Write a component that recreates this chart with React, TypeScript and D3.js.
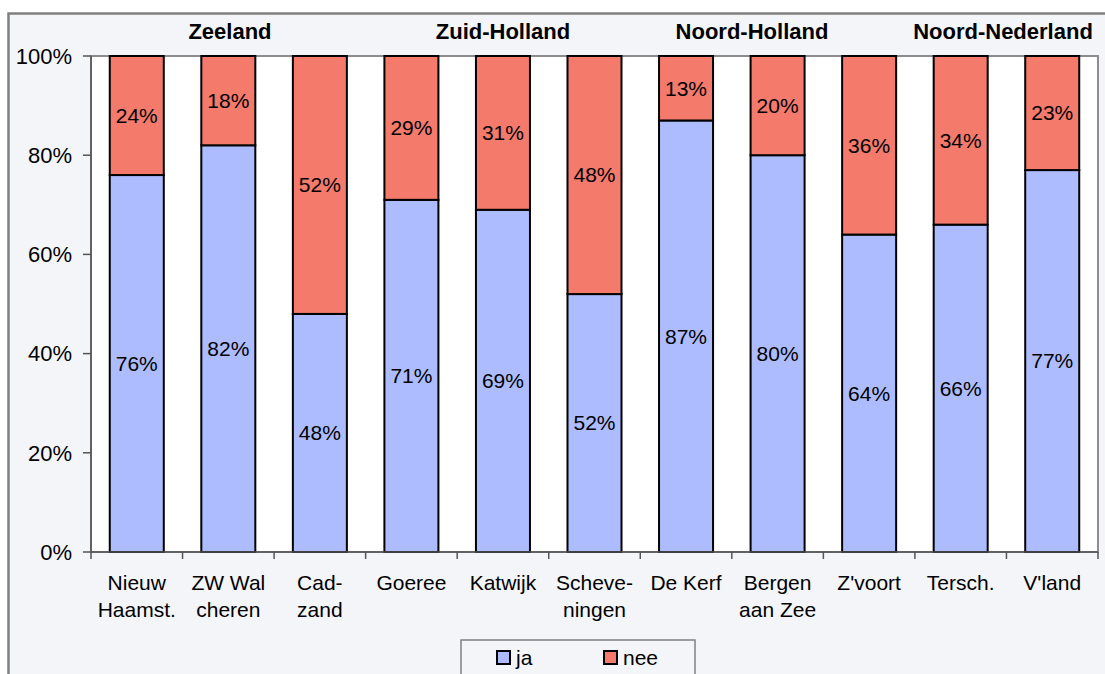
import React from "react";
import * as d3 from "d3";

const categories: string[][] = [
  ["Nieuw", "Haamst."],
  ["ZW Wal", "cheren"],
  ["Cad-", "zand"],
  ["Goeree"],
  ["Katwijk"],
  ["Scheve-", "ningen"],
  ["De Kerf"],
  ["Bergen", "aan Zee"],
  ["Z'voort"],
  ["Tersch."],
  ["V'land"],
];
const ja = [76, 82, 48, 71, 69, 52, 87, 80, 64, 66, 77];
const nee = [24, 18, 52, 29, 31, 48, 13, 20, 36, 34, 23];
const yTicks = [0, 20, 40, 60, 80, 100];
const regions = [
  { name: "Zeeland", x: 230 },
  { name: "Zuid-Holland", x: 503 },
  { name: "Noord-Holland", x: 752 },
  { name: "Noord-Nederland", x: 1003 },
];

const W = 1105;
const H = 674;
const plot = { left: 91, right: 1098, top: 56, bottom: 552 };
const FONT = "Liberation Sans, Arial, sans-serif";
const BLUE = "#adbcff";
const RED = "#f47a6c";

export default function App() {
  const keys = categories.map((_, i) => String(i));
  const x = d3.scaleBand().domain(keys).range([plot.left, plot.right]).paddingInner(0.41).paddingOuter(0.205);
  const band = d3.scaleBand().domain(keys).range([plot.left, plot.right]);
  const y = d3.scaleLinear().domain([0, 100]).range([plot.bottom, plot.top]);

  const rows = categories.map((_, i) => ({ key: String(i), ja: ja[i], nee: nee[i] }));
  const stacked = d3.stack<any>().keys(["ja", "nee"])(rows);
  const colors = [BLUE, RED];

  return (
    <svg width={W} height={H} style={{ position: "absolute", left: 0, top: 0 }} fontFamily={FONT}>
      <rect x={0} y={0} width={W} height={H} fill="#ffffff" />
      {/* outer chart frame */}
      <rect x={8.5} y={13.5} width={W + 20} height={H + 20} fill="#f4f5f8" stroke="#808080" strokeWidth={2.5} />
      {/* plot area */}
      <rect x={plot.left} y={plot.top} width={plot.right - plot.left} height={plot.bottom - plot.top} fill="#ffffff" stroke="#8c8c8c" strokeWidth={2} />

      {/* region headers */}
      {regions.map((r) => (
        <text key={r.name} x={r.x} y={39} textAnchor="middle" fontSize={22} fontWeight="bold" fill="#000">
          {r.name}
        </text>
      ))}

      {/* stacked bars */}
      {stacked.map((series, si) =>
        series.map((d, i) => (
          <rect
            key={`${si}-${i}`}
            x={x(String(i))}
            y={y(d[1])}
            width={x.bandwidth()}
            height={y(d[0]) - y(d[1])}
            fill={colors[si]}
            stroke="#000"
            strokeWidth={2}
          />
        ))
      )}

      {/* value labels */}
      {stacked.map((series, si) =>
        series.map((d, i) => (
          <text
            key={`l${si}-${i}`}
            x={(x(String(i)) as number) + x.bandwidth() / 2}
            y={y((d[0] + d[1]) / 2)}
            dy="0.35em"
            textAnchor="middle"
            fontSize={21}
            fill="#000"
          >
            {`${si === 0 ? ja[i] : nee[i]}%`}
          </text>
        ))
      )}

      {/* y axis */}
      <line x1={plot.left} x2={plot.left} y1={plot.top} y2={plot.bottom} stroke="#555" strokeWidth={1.5} />
      {yTicks.map((t) => (
        <g key={t}>
          <line x1={plot.left - 8} x2={plot.left} y1={y(t)} y2={y(t)} stroke="#555" strokeWidth={1.5} />
          <text x={72} y={y(t)} dy="0.35em" textAnchor="end" fontSize={22} fill="#000">
            {`${t}%`}
          </text>
        </g>
      ))}

      {/* x axis */}
      <line x1={plot.left} x2={plot.right} y1={plot.bottom} y2={plot.bottom} stroke="#555" strokeWidth={1.5} />
      {keys.concat(["end"]).map((k, i) => {
        const px = i < keys.length ? (band(k) as number) : plot.right;
        return <line key={`t${i}`} x1={px} x2={px} y1={plot.bottom} y2={plot.bottom + 7} stroke="#555" strokeWidth={1.5} />;
      })}
      {categories.map((lines, i) => (
        <text key={`c${i}`} x={(band(String(i)) as number) + band.bandwidth() / 2} y={590} textAnchor="middle" fontSize={21} fill="#000">
          {lines.map((ln, j) => (
            <tspan key={j} x={(band(String(i)) as number) + band.bandwidth() / 2} dy={j === 0 ? 0 : 27}>
              {ln}
            </tspan>
          ))}
        </text>
      ))}

      {/* legend */}
      <rect x={461} y={640} width={234} height={50} fill="#f4f5f8" stroke="#808080" strokeWidth={1.5} />
      <rect x={497} y={651} width={13} height={13} fill={BLUE} stroke="#000" strokeWidth={2} />
      <text x={516} y={665} fontSize={21} fill="#000">ja</text>
      <rect x={604} y={651} width={13} height={13} fill={RED} stroke="#000" strokeWidth={2} />
      <text x={623} y={665} fontSize={21} fill="#000">nee</text>
    </svg>
  );
}
